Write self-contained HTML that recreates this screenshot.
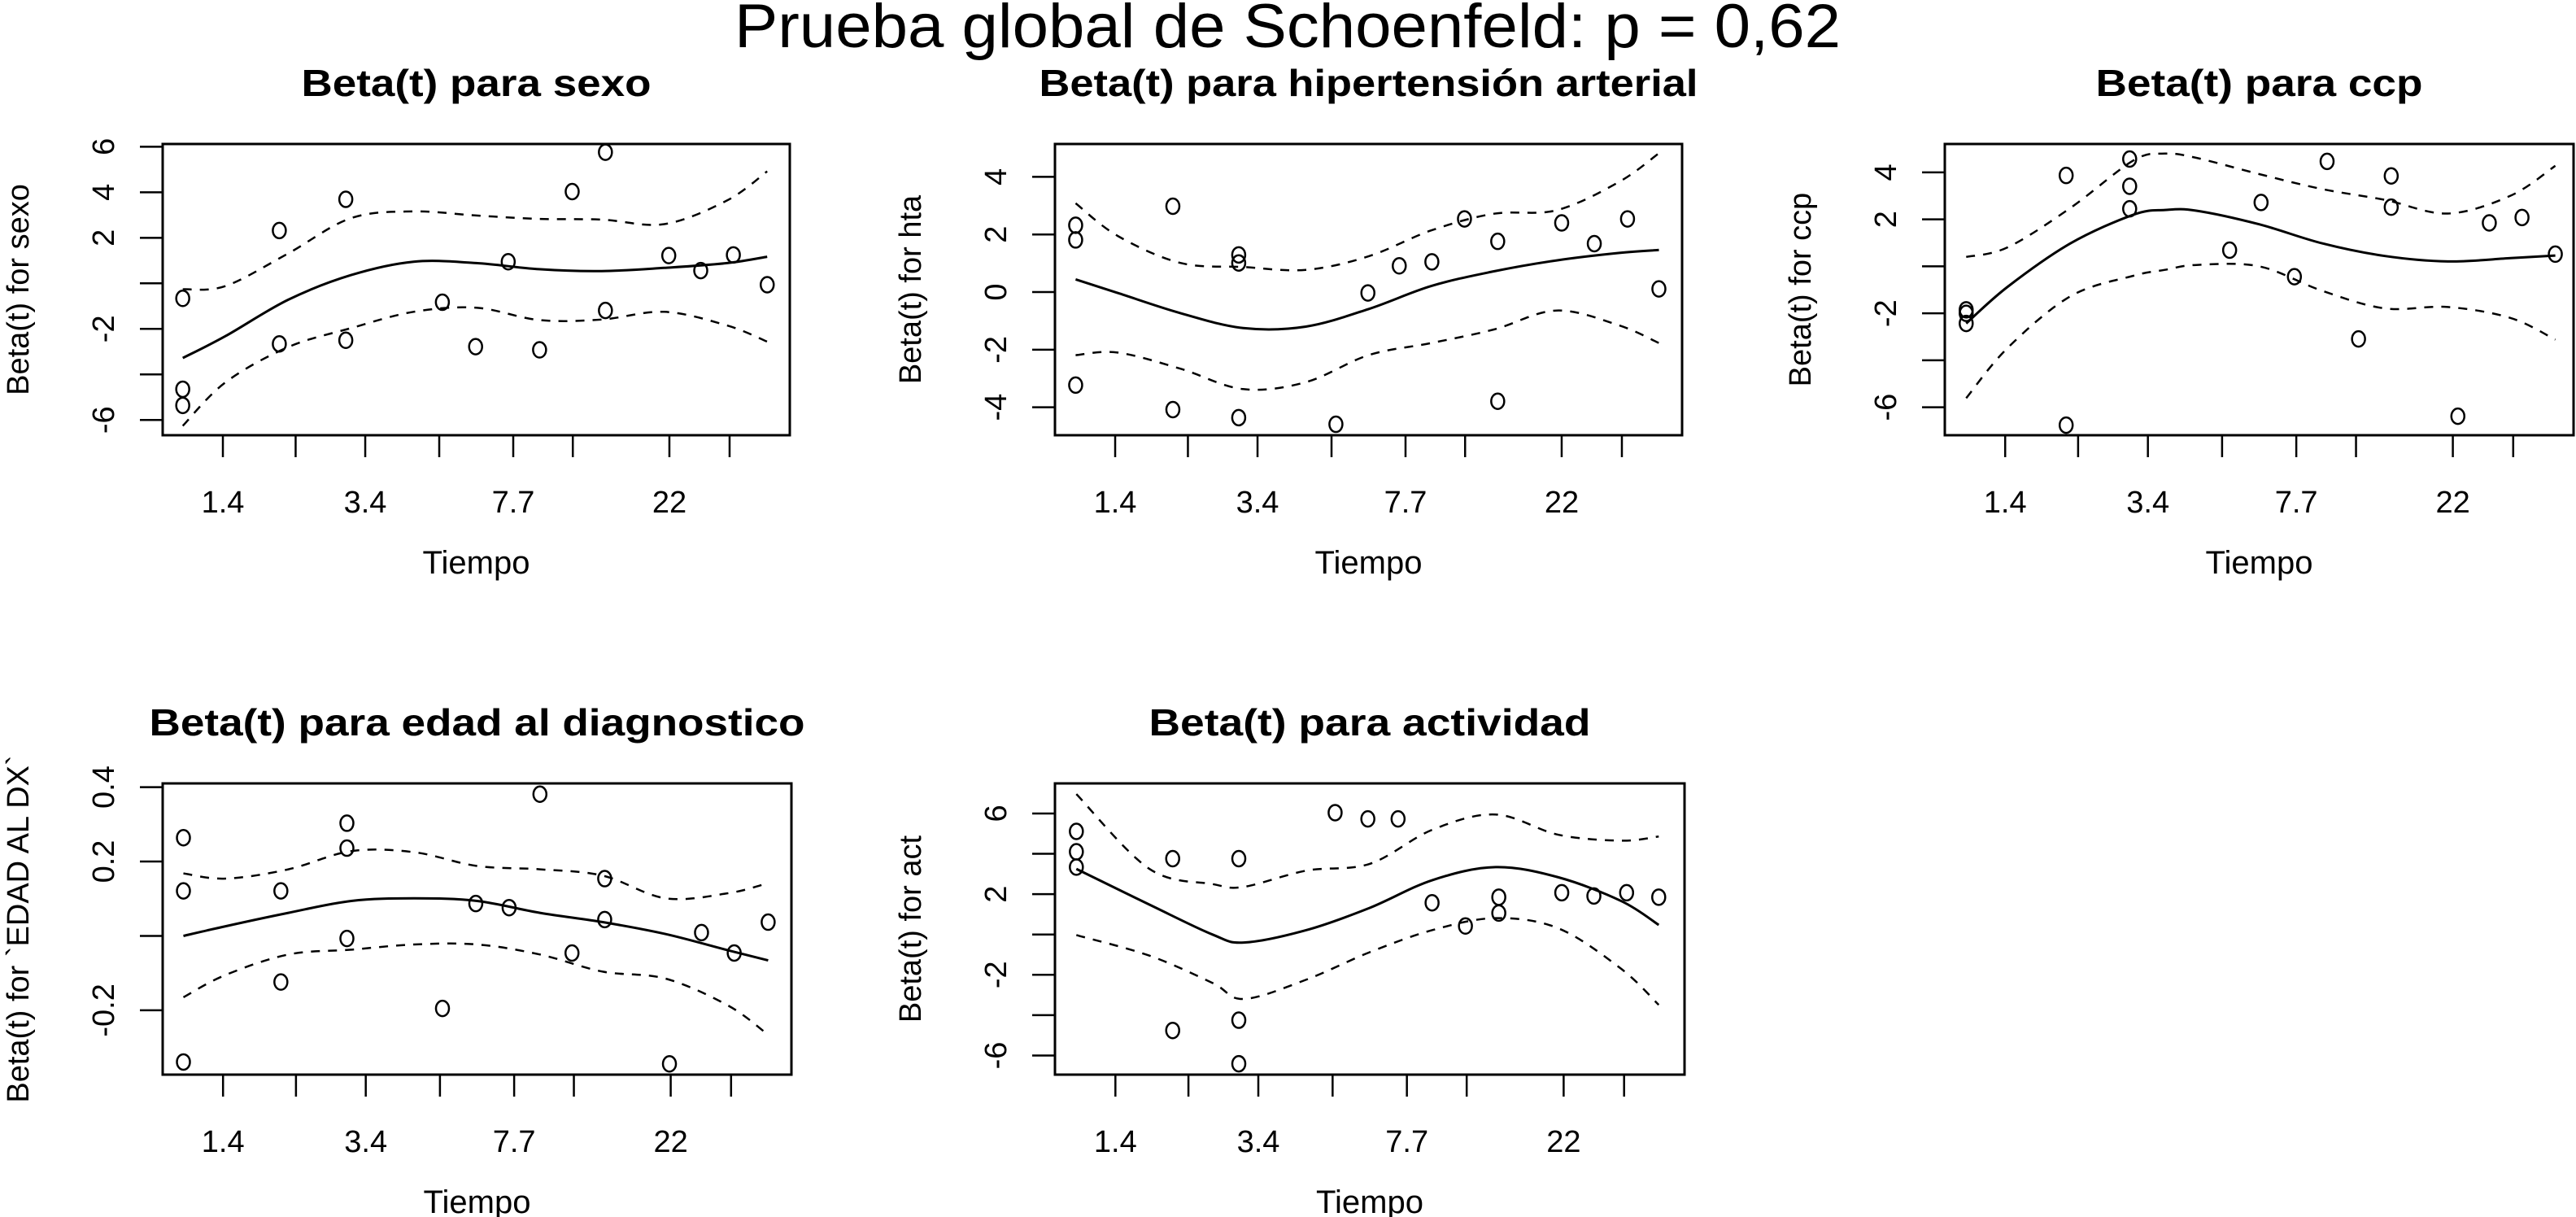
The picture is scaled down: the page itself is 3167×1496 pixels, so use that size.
<!DOCTYPE html>
<html><head><meta charset="utf-8"><style>
html,body{margin:0;padding:0;background:#fff;}
svg{display:block;font-family:"Liberation Sans",Arial,sans-serif;}
</style></head><body>
<svg id="chart" xmlns="http://www.w3.org/2000/svg" width="3167" height="1496" viewBox="0 0 3167 1496">
<rect width="3167" height="1496" fill="#fff"/>
<text x="1583" y="58" font-size="76" text-anchor="middle" textLength="1360" lengthAdjust="spacingAndGlyphs">Prueba global de Schoenfeld: p = 0,62</text>
</svg>
<script>
// shared x axis (km-transformed time, 0..1 across plot box)
const xTickPos = [0.096,0.212,0.323,0.441,0.559,0.654,0.808,0.904];
const xTickLabels = ["1.4","","3.4","","7.7","","22",""];

// Panel 1: sexo
const sexoPtsT = [0.032,0.032,0.032,0.186,0.186,0.292,0.292,0.446,0.499,0.551,0.601,0.653,0.706,0.706,0.807,0.858,0.910,0.964];
const sexoPtsBeta = [-0.66,-4.65,-5.36,2.32,-2.66,3.69,-2.50,-0.83,-2.78,0.95,-2.92,4.03,5.76,-1.19,1.22,0.56,1.25,-0.06];
const sexoFitT = [0.032,0.1,0.2,0.3,0.4,0.5,0.6,0.7,0.8,0.9,0.964];
const sexoFit = [-3.28,-2.32,-0.72,0.36,0.95,0.89,0.62,0.54,0.68,0.89,1.17];
const sexoUpper = [-0.26,-0.12,1.31,2.86,3.16,2.98,2.83,2.80,2.60,3.64,4.92];
const sexoLower = [-6.26,-4.35,-2.8,-1.97,-1.25,-1.07,-1.61,-1.59,-1.25,-1.85,-2.56];
const sexoYTicks = [-6,-4,-2,0,2,4,6];
const sexoYLabels = ["-6","","-2","","2","4","6"];

// Panel 2: hta
const htaPtsT = [0.033,0.033,0.033,0.188,0.188,0.293,0.293,0.293,0.448,0.499,0.549,0.601,0.653,0.706,0.706,0.808,0.860,0.913,0.963];
const htaPtsBeta = [2.32,1.81,-3.23,2.98,-4.08,1.29,1.01,-4.36,-4.59,-0.03,0.91,1.05,2.54,1.76,-3.79,2.40,1.68,2.54,0.11];
const htaFitT = [0.033,0.1,0.2,0.3,0.4,0.5,0.6,0.7,0.8,0.9,0.963];
const htaFit = [0.44,-0.03,-0.73,-1.25,-1.20,-0.59,0.21,0.72,1.10,1.36,1.46];
const htaUpper = [3.08,1.95,1.01,0.87,0.77,1.24,2.14,2.72,2.84,3.83,4.82];
const htaLower = [-2.19,-2.10,-2.66,-3.37,-3.13,-2.19,-1.77,-1.30,-0.64,-1.16,-1.77];
const htaYTicks = [-4,-2,0,2,4];
const htaYLabels = ["-4","-2","0","2","4"];

// Panel 3: ccp
const ccpPtsT = [0.034,0.034,0.034,0.193,0.193,0.294,0.294,0.294,0.453,0.503,0.556,0.608,0.658,0.710,0.710,0.816,0.866,0.918,0.971];
const ccpPtsBeta = [-1.85,-2.0,-2.43,3.87,-6.76,4.57,3.41,2.45,0.69,2.72,-0.44,4.47,-3.09,3.85,2.52,-6.38,1.85,2.08,0.52];
const ccpFitT = [0.034,0.1,0.2,0.3,0.35,0.4,0.5,0.6,0.7,0.8,0.9,0.971];
const ccpFit = [-2.43,-0.87,0.98,2.2,2.4,2.37,1.79,0.98,0.44,0.21,0.35,0.46];
const ccpUpper = [0.40,0.81,2.49,4.51,4.8,4.62,3.93,3.29,2.83,2.25,3.01,4.28];
const ccpLower = [-5.61,-3.47,-1.27,-0.40,-0.15,0.06,0,-1.04,-1.79,-1.73,-2.20,-3.12];
const ccpYTicks = [-6,-4,-2,0,2,4];
const ccpYLabels = ["-6","","-2","","2","4"];

// Panel 4: edad al diagnostico
const edadPtsT = [0.033,0.033,0.033,0.188,0.188,0.293,0.293,0.293,0.445,0.498,0.551,0.600,0.651,0.703,0.703,0.806,0.857,0.909,0.963];
const edadPtsBeta = [0.264,0.121,-0.339,0.121,-0.124,0.303,0.236,-0.007,-0.195,0.087,0.076,0.381,-0.046,0.154,0.044,-0.344,0.009,-0.046,0.037];
const edadFitT = [0.033,0.1,0.2,0.3,0.4,0.5,0.6,0.7,0.8,0.9,0.963];
const edadFit = [0.0,0.026,0.062,0.094,0.101,0.094,0.062,0.037,0.005,-0.039,-0.066];
const edadUpper = [0.168,0.154,0.179,0.228,0.225,0.188,0.179,0.162,0.101,0.115,0.142];
const edadLower = [-0.165,-0.105,-0.05,-0.037,-0.023,-0.023,-0.05,-0.096,-0.115,-0.188,-0.266];
const edadYTicks = [-0.2,0,0.2,0.4];
const edadYLabels = ["-0.2","","0.2","0.4"];

// Panel 5: actividad
const actPtsT = [0.034,0.034,0.034,0.187,0.187,0.292,0.292,0.292,0.445,0.497,0.545,0.599,0.652,0.705,0.705,0.805,0.856,0.908,0.959];
const actPtsBeta = [5.11,4.10,3.34,3.76,-4.76,3.76,-4.25,-6.41,6.04,5.73,5.73,1.57,0.42,1.85,1.06,2.07,1.91,2.07,1.85];
const actFitT = [0.034,0.15,0.25,0.3,0.4,0.5,0.6,0.7,0.8,0.9,0.959];
const actFit = [3.25,1.48,0.0,-0.4,0.22,1.32,2.7,3.34,2.83,1.65,0.47];
const actUpper = [6.96,3.25,2.5,2.36,3.17,3.5,5.2,5.95,4.94,4.65,4.86];
const actLower = [-0.03,-1.05,-2.4,-3.2,-2.23,-0.88,0.22,0.81,0.3,-1.72,-3.49];
const actYTicks = [-6,-4,-2,0,2,4,6];
const actYLabels = ["-6","","-2","","2","","6"];

const NS = "http://www.w3.org/2000/svg";
const svg = document.getElementById("chart");
function mk(tag, attrs, parent){
  const e = document.createElementNS(NS, tag);
  for (const k in attrs) e.setAttribute(k, attrs[k]);
  (parent||svg).appendChild(e);
  return e;
}
function smoothPath(pts){
  let d = "M" + pts[0][0].toFixed(1) + "," + pts[0][1].toFixed(1);
  for (let i=0;i<pts.length-1;i++){
    const p0 = pts[Math.max(0,i-1)], p1 = pts[i], p2 = pts[i+1], p3 = pts[Math.min(pts.length-1,i+2)];
    const c1x = p1[0]+(p2[0]-p0[0])/6, c1y = p1[1]+(p2[1]-p0[1])/6;
    const c2x = p2[0]-(p3[0]-p1[0])/6, c2y = p2[1]-(p3[1]-p1[1])/6;
    d += " C"+c1x.toFixed(1)+","+c1y.toFixed(1)+" "+c2x.toFixed(1)+","+c2y.toFixed(1)+" "+p2[0].toFixed(1)+","+p2[1].toFixed(1);
  }
  return d;
}

const panels = [
  {key:"sexo", title:"Beta(t) para sexo", titleW:430, ylab:"Beta(t) for sexo",
   x0:200,x1:971,y0:177,y1:535, vTop:6.12, vBot:-6.67,
   pt:sexoPtsT, pb:sexoPtsBeta, ft:sexoFitT, f:sexoFit, up:sexoUpper, lo:sexoLower, yt:sexoYTicks, yl:sexoYLabels},
  {key:"hta", title:"Beta(t) para hipertensión arterial", titleW:810, ylab:"Beta(t) for hta",
   x0:1297,x1:2068,y0:177,y1:535, vTop:5.14, vBot:-4.97,
   pt:htaPtsT, pb:htaPtsBeta, ft:htaFitT, f:htaFit, up:htaUpper, lo:htaLower, yt:htaYTicks, yl:htaYLabels},
  {key:"ccp", title:"Beta(t) para ccp", titleW:402, ylab:"Beta(t) for ccp",
   x0:2391,x1:3164,y0:177,y1:535, vTop:5.21, vBot:-7.19,
   pt:ccpPtsT, pb:ccpPtsBeta, ft:ccpFitT, f:ccpFit, up:ccpUpper, lo:ccpLower, yt:ccpYTicks, yl:ccpYLabels},
  {key:"edad", title:"Beta(t) para edad al diagnostico", titleW:806, ylab:"Beta(t) for `EDAD AL DX`",
   x0:200,x1:973,y0:963,y1:1321, vTop:0.410, vBot:-0.373,
   pt:edadPtsT, pb:edadPtsBeta, ft:edadFitT, f:edadFit, up:edadUpper, lo:edadLower, yt:edadYTicks, yl:edadYLabels},
  {key:"act", title:"Beta(t) para actividad", titleW:543, ylab:"Beta(t) for act",
   x0:1297,x1:2071,y0:963,y1:1321, vTop:7.49, vBot:-6.95,
   pt:actPtsT, pb:actPtsBeta, ft:actFitT, f:actFit, up:actUpper, lo:actLower, yt:actYTicks, yl:actYLabels}
];

panels.forEach(p => {
  const g = mk("g", {});
  
  
  const xs = u => p.x0 + u*(p.x1-p.x0);
  const ys = v => p.y0 + (p.vTop - v)/(p.vTop - p.vBot)*(p.y1-p.y0);
  const cx = (p.x0+p.x1)/2, cy = (p.y0+p.y1)/2;

  const t = mk("text", {x:cx, y:p.y0-59, "font-size":46, "font-weight":"bold", "text-anchor":"middle", textLength:p.titleW, lengthAdjust:"spacingAndGlyphs"}, g);
  t.textContent = p.title;
  
  

  const box = mk("rect", {x:p.x0, y:p.y0, width:p.x1-p.x0, height:p.y1-p.y0, fill:"none", stroke:"#000", "stroke-width":3}, g);
  
  

  xTickPos.forEach((u,i) => {
    const X = xs(u);
    const tk = mk("line", {x1:X, x2:X, y1:p.y1, y2:p.y1+27, stroke:"#000", "stroke-width":2.5}, g);
    
    
    if (xTickLabels[i]) {
      const tl = mk("text", {x:X, y:p.y1+95, "font-size":38, "text-anchor":"middle"}, g);
      tl.textContent = xTickLabels[i];
      
      
    }
  });
  const xt = mk("text", {x:cx, y:p.y1+170, "font-size":40, "text-anchor":"middle"}, g);
  xt.textContent = "Tiempo";
  
  

  p.yt.forEach((v,i) => {
    const Y = ys(v);
    const tk = mk("line", {x1:p.x0-28, x2:p.x0, y1:Y, y2:Y, stroke:"#000", "stroke-width":2.5}, g);
    
    
    if (p.yl[i]) {
      const lx = p.x0-60;
      const tl = mk("text", {x:lx, y:Y, "font-size":38, "text-anchor":"middle", transform:"rotate(-90 "+lx+" "+Y+")"}, g);
      tl.textContent = p.yl[i];
      
      
    }
  });
  const yx = p.x0-165;
  const yt = mk("text", {x:yx, y:cy, "font-size":38, "text-anchor":"middle", transform:"rotate(-90 "+yx+" "+cy+")"}, g);
  yt.textContent = p.ylab;
  
  

  const curve = (arr, dashed, name) => {
    const pts = p.ft.map((u,i) => [xs(u), ys(arr[i])]);
    const path = mk("path", {d:smoothPath(pts), fill:"none", stroke:"#000", "stroke-width":dashed?2.5:3}, g);
    if (dashed) path.setAttribute("stroke-dasharray","11 10");
    
    
  };
  curve(p.f, false, 'beta-fit-line');
  curve(p.up, true, 'upper-ci-line');
  curve(p.lo, true, 'lower-ci-line');

  p.pt.forEach((u,i) => {
    const c = mk("ellipse", {cx:xs(u), cy:ys(p.pb[i]), rx:8, ry:9.5, fill:"none", stroke:"#000", "stroke-width":2.5}, g);
    
    
  });
});
</script>
</body></html>
